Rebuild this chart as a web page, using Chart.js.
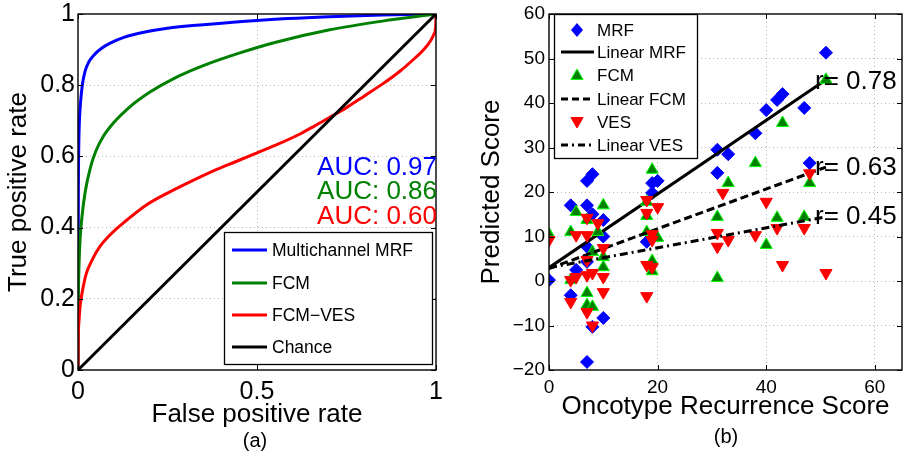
<!DOCTYPE html>
<html>
<head>
<meta charset="utf-8">
<script src="https://cdn.jsdelivr.net/npm/chart.js@4/dist/chart.umd.min.js"></script>
<style>
html,body{margin:0;padding:0;background:#fff;width:910px;height:453px;overflow:hidden}
#c1{position:absolute;left:0;top:0;width:455px;height:453px}
#c2{position:absolute;left:455px;top:0;width:455px;height:453px}
</style>
</head>
<body>
<canvas id="c1" width="455" height="453"></canvas>
<canvas id="c2" width="455" height="453"></canvas>
<script>
// ---------- Panel (a): ROC curves ----------
const rocLabels = ['Multichannel MRF', 'FCM', 'FCM\u2212VES', 'Chance'];
const rocColors = ['#0000ff', '#008000', '#ff0000', '#000000'];
const mrfFpr = [0, 0.0005, 0.001, 0.002, 0.004, 0.007, 0.012, 0.02, 0.03, 0.045, 0.065, 0.09, 0.13, 0.18, 0.25, 0.35, 0.5, 0.7, 0.85, 1];
const mrfTpr = [0, 0.3, 0.5, 0.62, 0.70, 0.75, 0.80, 0.84, 0.865, 0.885, 0.903, 0.918, 0.935, 0.948, 0.96, 0.97, 0.982, 0.992, 0.997, 1];
const fcmFpr = [0, 0.0005, 0.001, 0.003, 0.006, 0.01, 0.02, 0.035, 0.05, 0.07, 0.1, 0.14, 0.2, 0.27, 0.35, 0.45, 0.55, 0.7, 0.85, 1];
const fcmTpr = [0, 0.12, 0.2, 0.3, 0.37, 0.42, 0.5, 0.57, 0.615, 0.655, 0.695, 0.735, 0.78, 0.82, 0.855, 0.89, 0.92, 0.955, 0.98, 1];
const vesFpr = [0, 0.0005, 0.001, 0.003, 0.006, 0.012, 0.023, 0.04, 0.06, 0.09, 0.135, 0.19, 0.25, 0.32, 0.38, 0.44, 0.5, 0.56, 0.62, 0.66, 0.7, 0.75, 0.8, 0.85, 0.9, 0.94, 0.966, 0.985, 0.995, 0.999, 1];
const vesTpr = [0, 0.06, 0.1, 0.14, 0.18, 0.22, 0.27, 0.31, 0.345, 0.38, 0.42, 0.463, 0.497, 0.532, 0.56, 0.585, 0.61, 0.635, 0.663, 0.685, 0.708, 0.737, 0.77, 0.803, 0.84, 0.875, 0.9, 0.925, 0.945, 0.965, 1];
const chanceFpr = [0, 1];
const chanceTpr = [0, 1];
const aucValues = ['0.97', '0.86', '0.60'];

// ---------- Panel (b): scatter ----------
const mrfX = [0, 4, 5, 4, 7, 8, 7, 8, 7, 7, 10, 10, 10, 8, 7, 19, 20, 19, 18, 31, 31, 33, 38, 40, 42, 43, 47, 48, 51];
const mrfY = [0.2, 17, 2.5, -3.2, 22.5, 24, 17, 15, 7.7, 4.3, 13.7, 10, -8.3, -10.3, -18.2, 22, 22.5, 19.8, 8.8, 24.3, 29.5, 28.5, 33.2, 38.4, 40.7, 42, 38.9, 26.5, 51.3];
const fcmX = [0, 4, 4, 5, 7, 10, 9, 8, 10, 10, 7, 7, 8, 19, 18, 18, 18, 20, 19, 19, 31, 31, 33, 38, 40, 42, 43, 47, 48, 51];
const fcmY = [10.5, 11, 0.2, 15.5, 13.7, 17, 11, 6.5, 5.4, 3.1, -2.7, -5.4, -5.8, 25, 17.8, 14.6, 11, 9.7, 4.5, 2.2, 14.4, 0.7, 22, 26.5, 8.1, 14.2, 35.5, 14.4, 22, 45.2];
const vesX = [0, 5, 7, 7, 9, 10, 7, 5, 4, 7, 8, 10, 10, 4, 7, 8, 18, 18, 20, 19, 19, 18, 19, 18, 32, 31, 31, 33, 38, 40, 42, 43, 47, 48, 51];
const vesY = [9.2, 10.3, 10.3, 14.2, 13, 7.4, 4.7, 0.9, 0.2, 1.3, 1.8, 0.9, -2.5, -4.7, -7, -10, 15.3, 18.2, 16.6, 10.5, 9.2, 3.6, 3.1, -3.4, 19.8, 10.8, 7.7, 9.2, 10.3, 17.8, 11.9, 3.6, 11.9, 24.2, 1.8];
const fitX = [0, 51];
const mrfFit = [3.0, 45.2];
const fcmFit = [2.8, 25.6];
const vesFit = [3.0, 14.4];
const rValues = ['0.78', '0.63', '0.45'];
const scatterLabels = ['MRF', 'Linear MRF', 'FCM', 'Linear FCM', 'VES', 'Linear VES'];

const FONT = '"Liberation Sans", Arial, Helvetica, sans-serif';
Chart.defaults.font.family = FONT;
Chart.defaults.color = '#000';

const pts = (xs, ys) => xs.map((x, i) => ({x: x, y: ys[i]}));
const near = (a, b) => Math.abs(a - b) < 1e-6;

function gridColorFor(min, max) {
  return ctx => (ctx.tick && (near(ctx.tick.value, min) || near(ctx.tick.value, max))) ? 'rgba(0,0,0,0)' : '#b9b9b9';
}
function fixPad(s) { s.paddingTop = 0; s.paddingBottom = 0; s.paddingLeft = 0; s.paddingRight = 0; }

function drawFrame(chart) {
  const {ctx, chartArea: a, scales} = chart;
  ctx.save();
  ctx.strokeStyle = '#000';
  ctx.lineWidth = 1;
  ctx.beginPath();
  scales.x.ticks.forEach(t => {
    const p = Math.round(scales.x.getPixelForValue(t.value)) + 0.5;
    ctx.moveTo(p, a.bottom); ctx.lineTo(p, a.bottom - 5);
    ctx.moveTo(p, a.top); ctx.lineTo(p, a.top + 5);
  });
  scales.y.ticks.forEach(t => {
    const p = Math.round(scales.y.getPixelForValue(t.value)) + 0.5;
    ctx.moveTo(a.left, p); ctx.lineTo(a.left + 5, p);
    ctx.moveTo(a.right, p); ctx.lineTo(a.right - 5, p);
  });
  ctx.stroke();
  ctx.lineWidth = 1.4;
  ctx.strokeRect(a.left, a.top, a.right - a.left, a.bottom - a.top);
  ctx.restore();
}

const rocPlugin = {
  id: 'rocDecor',
  afterDraw(chart) {
    drawFrame(chart);
    const {ctx, chartArea: a} = chart;
    ctx.save();
    ctx.font = '26px ' + FONT;
    ctx.textAlign = 'right';
    ctx.textBaseline = 'middle';
    const aucY = [168, 192, 217];
    aucValues.forEach((v, i) => { ctx.fillStyle = rocColors[i]; ctx.fillText('AUC: ' + v, a.right + 1, aucY[i]); });
    ctx.fillStyle = '#fff';
    ctx.fillRect(224, 232, 208, 132);
    ctx.strokeStyle = '#000'; ctx.lineWidth = 1.3;
    ctx.strokeRect(224.5, 232.5, 208, 132);
    const ly = [250, 283, 315, 347];
    ctx.font = '17.5px ' + FONT;
    ctx.textAlign = 'left';
    rocLabels.forEach((l, i) => {
      ctx.strokeStyle = rocColors[i]; ctx.lineWidth = 3;
      ctx.beginPath(); ctx.moveTo(232, ly[i]); ctx.lineTo(267, ly[i]); ctx.stroke();
      ctx.fillStyle = '#000';
      ctx.fillText(l, 272, ly[i] + 1);
    });
    ctx.font = '20px ' + FONT;
    ctx.textAlign = 'center';
    ctx.fillText('(a)', 255, 441);
    ctx.restore();
  }
};

const lineDs = (label, xs, ys, color, order) => ({
  label: label, data: pts(xs, ys), showLine: true, borderColor: color, borderWidth: 3,
  pointRadius: 0, cubicInterpolationMode: 'monotone', order: order
});

new Chart(document.getElementById('c1'), {
  type: 'scatter',
  data: {
    datasets: [
      lineDs(rocLabels[0], mrfFpr, mrfTpr, rocColors[0], 4),
      lineDs(rocLabels[1], fcmFpr, fcmTpr, rocColors[1], 3),
      lineDs(rocLabels[2], vesFpr, vesTpr, rocColors[2], 2),
      lineDs(rocLabels[3], chanceFpr, chanceTpr, rocColors[3], 1)
    ]
  },
  options: {
    responsive: false, animation: false, devicePixelRatio: 1,
    layout: {padding: {left: 0, right: 19, top: 14, bottom: 0}},
    plugins: {legend: {display: false}, tooltip: {enabled: false}},
    scales: {
      x: {
        type: 'linear', min: 0, max: 1,
        afterFit: s => { s.height = 83; fixPad(s); },
        ticks: {stepSize: 0.5, padding: 7, font: {size: 25}, color: '#000', maxRotation: 0,
          callback: v => near(v, 0) ? '0' : near(v, 1) ? '1' : v.toFixed(1)},
        grid: {drawTicks: false, color: gridColorFor(0, 1), lineWidth: 1, borderDash: [1, 3]},
        border: {display: false, dash: [1, 3]},
        title: {display: true, text: 'False positive rate', font: {size: 26}, color: '#000', padding: {top: 0, bottom: 23}}
      },
      y: {
        type: 'linear', min: 0, max: 1,
        afterFit: s => { s.width = 78; fixPad(s); },
        ticks: {stepSize: 0.2, padding: 3, font: {size: 25}, color: '#000',
          callback: v => near(v, 0) ? '0' : near(v, 1) ? '1' : v.toFixed(1)},
        grid: {drawTicks: false, color: gridColorFor(0, 1), lineWidth: 1, borderDash: [1, 3]},
        border: {display: false, dash: [1, 3]},
        title: {display: true, text: 'True positive rate', font: {size: 26}, color: '#000', padding: {top: 3, bottom: 0}}
      }
    }
  },
  plugins: [rocPlugin]
});

// ---------- scatter chart ----------
function drawDiamond(ctx, x, y, r) {
  ctx.beginPath(); ctx.moveTo(x, y - r * 1.15); ctx.lineTo(x + r, y); ctx.lineTo(x, y + r * 1.15); ctx.lineTo(x - r, y); ctx.closePath();
}
function drawTri(ctx, x, y, r, down) {
  const s = down ? -1 : 1;
  ctx.beginPath();
  ctx.moveTo(x, y - s * r);
  ctx.lineTo(x + r * 0.866, y + s * r * 0.5);
  ctx.lineTo(x - r * 0.866, y + s * r * 0.5);
  ctx.closePath();
}

const scatPlugin = {
  id: 'scatDecor',
  afterDraw(chart) {
    drawFrame(chart);
    const {ctx} = chart;
    ctx.save();
    ctx.font = '26px ' + FONT;
    ctx.fillStyle = '#000';
    ctx.textAlign = 'left';
    ctx.textBaseline = 'middle';
    const rY = [82, 168, 217];
    rValues.forEach((v, i) => ctx.fillText('r= ' + v, 360, rY[i]));
    ctx.fillStyle = '#fff';
    ctx.fillRect(99, 14, 143, 144);
    ctx.strokeStyle = '#000'; ctx.lineWidth = 1.3;
    ctx.strokeRect(99.5, 14.5, 143, 144);
    const ly = [30, 52, 75, 99, 122, 145];
    ctx.font = '17px ' + FONT;
    scatterLabels.forEach((l, i) => {
      const y = ly[i];
      if (i === 0) { ctx.fillStyle = '#0000ff'; drawDiamond(ctx, 122, y, 6); ctx.fill(); }
      else if (i === 2) { ctx.fillStyle = '#008000'; ctx.strokeStyle = '#00ff00'; ctx.lineWidth = 1; drawTri(ctx, 122, y + 1, 7, false); ctx.fill(); ctx.stroke(); }
      else if (i === 4) { ctx.fillStyle = '#ff0000'; ctx.strokeStyle = '#ff0000'; ctx.lineWidth = 1; drawTri(ctx, 122, y - 1, 7, true); ctx.fill(); ctx.stroke(); }
      else {
        ctx.strokeStyle = '#000'; ctx.lineWidth = 3;
        ctx.setLineDash(i === 1 ? [] : i === 3 ? [7, 4] : [7, 4, 2, 4]);
        ctx.beginPath(); ctx.moveTo(106, y); ctx.lineTo(139, y); ctx.stroke();
        ctx.setLineDash([]);
      }
      ctx.fillStyle = '#000';
      ctx.fillText(l, 142, y + 1);
    });
    ctx.font = '20px ' + FONT;
    ctx.textAlign = 'center';
    ctx.fillText('(b)', 271, 437);
    ctx.restore();
  }
};

new Chart(document.getElementById('c2'), {
  type: 'scatter',
  data: {
    datasets: [
      {label: scatterLabels[0], data: pts(mrfX, mrfY), pointStyle: 'rectRot', pointRadius: 6.5, backgroundColor: '#0000ff', borderColor: '#0000ff', borderWidth: 1, order: 6},
      {label: scatterLabels[1], data: pts(fitX, mrfFit), showLine: true, pointRadius: 0, borderColor: '#000', borderWidth: 3, order: 5},
      {label: scatterLabels[2], data: pts(fcmX, fcmY), pointStyle: 'triangle', pointRadius: 7, backgroundColor: '#008000', borderColor: '#00ff00', borderWidth: 1, order: 4},
      {label: scatterLabels[3], data: pts(fitX, fcmFit), showLine: true, pointRadius: 0, borderColor: '#000', borderWidth: 3, borderDash: [8, 4], order: 3},
      {label: scatterLabels[4], data: pts(vesX, vesY), pointStyle: 'triangle', rotation: 180, pointRadius: 7, backgroundColor: '#ff0000', borderColor: '#ff0000', borderWidth: 1, order: 2},
      {label: scatterLabels[5], data: pts(fitX, vesFit), showLine: true, pointRadius: 0, borderColor: '#000', borderWidth: 3, borderDash: [8, 4, 2, 4], order: 1}
    ]
  },
  options: {
    responsive: false, animation: false, devicePixelRatio: 1,
    layout: {padding: {left: 0, right: 5, top: 14, bottom: 0}},
    plugins: {legend: {display: false}, tooltip: {enabled: false}},
    scales: {
      x: {
        type: 'linear', min: 0, max: 65,
        afterFit: s => { s.height = 83; fixPad(s); },
        ticks: {stepSize: 20, includeBounds: false, padding: 6, font: {size: 19}, color: '#000', maxRotation: 0},
        grid: {drawTicks: false, color: gridColorFor(0, 65), lineWidth: 1, borderDash: [1, 3]},
        border: {display: false, dash: [1, 3]},
        title: {display: true, text: 'Oncotype Recurrence Score', font: {size: 26}, color: '#000', padding: {top: 0, bottom: 31}}
      },
      y: {
        type: 'linear', min: -20, max: 60,
        afterFit: s => { s.width = 94; fixPad(s); },
        ticks: {stepSize: 10, padding: 4, font: {size: 19}, color: '#000',
          callback: v => v < 0 ? '\u2212' + Math.abs(v) : String(v)},
        grid: {drawTicks: false, color: gridColorFor(-20, 60), lineWidth: 1, borderDash: [1, 3]},
        border: {display: false, dash: [1, 3]},
        title: {display: true, text: 'Predicted Score', font: {size: 26}, color: '#000', padding: {top: 21, bottom: 0}}
      }
    }
  },
  plugins: [scatPlugin]
});
</script>
</body>
</html>
